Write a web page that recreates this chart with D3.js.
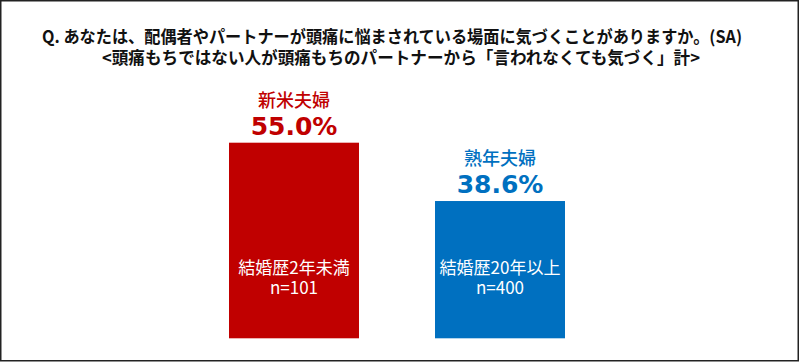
<!DOCTYPE html>
<html lang="ja">
  <head>
    <meta charset="UTF-8" />
    <title>頭痛に気づく</title>
    <script src="https://cdn.jsdelivr.net/npm/d3@7"></script>
    <style>
      body { margin: 0; background: #fff; }
      svg { display: block; font-family: "Noto Sans CJK JP", sans-serif; }
    </style>
  </head>
  <body>
    <svg width="800" height="362"></svg>
    <script>
      var groups = ["新米夫婦", "熟年夫婦"];
      var values = [55.0, 38.6];
      var subLabels = ["結婚歴2年未満", "結婚歴20年以上"];
      var sampleSizes = ["n=101", "n=400"];
      var colors = ["#C00000", "#0070C0"];
      var titleLines = [
        "Q. あなたは、配偶者やパートナーが頭痛に悩まされている場面に気づくことがありますか。(SA)",
        "<頭痛もちではない人が頭痛もちのパートナーから「言われなくても気づく」計>"
      ];

      var svg = d3.select("svg");

      // frame
      svg.append("rect")
        .attr("x", 0.75).attr("y", 0.75)
        .attr("width", 797.5).attr("height", 360)
        .attr("fill", "none")
        .attr("stroke", "#222")
        .attr("stroke-width", 1.5);

      // title
      var titleX = [[42, 700], [102, 598]];
      svg.selectAll(".title")
        .data(titleLines)
        .enter()
        .append("text")
        .attr("class", "title")
        .attr("x", function (d, i) { return titleX[i][0]; })
        .attr("y", function (d, i) { return 43 + i * 21; })
        .attr("textLength", function (d, i) { return titleX[i][1]; })
        .attr("lengthAdjust", "spacingAndGlyphs")
        .attr("font-size", 17)
        .attr("font-weight", "bold")
        .attr("fill", "#111")
        .text(function (d) { return d; });

      var x = d3.scaleBand().domain(groups).range([229, 565]).paddingInner(0.369).paddingOuter(0);
      var y = d3.scaleLinear().domain([0, 55]).range([338.3, 142.7]);

      var bar = svg.selectAll(".bar")
        .data(groups)
        .enter()
        .append("g")
        .attr("class", "bar");

      bar.append("rect")
        .attr("x", function (d) { return x(d); })
        .attr("y", function (d, i) { return y(values[i]); })
        .attr("width", x.bandwidth())
        .attr("height", function (d, i) { return y(0) - y(values[i]); })
        .attr("fill", function (d, i) { return colors[i]; });

      var cx = function (d) { return x(d) + x.bandwidth() / 2; };

      bar.append("text")
        .attr("x", cx)
        .attr("y", function (d, i) { return y(values[i]) - 36; })
        .attr("text-anchor", "middle")
        .attr("font-size", 18)
        .attr("font-weight", 500)
        .attr("fill", function (d, i) { return colors[i]; })
        .text(function (d) { return d; });

      bar.append("text")
        .attr("x", cx)
        .attr("y", function (d, i) { return y(values[i]) - 8; })
        .attr("text-anchor", "middle")
        .attr("font-family", "DejaVu Sans")
        .attr("font-size", 25)
        .attr("font-weight", "bold")
        .attr("fill", function (d, i) { return colors[i]; })
        .text(function (d, i) { return values[i].toFixed(1) + "%"; });

      bar.append("text")
        .attr("x", cx)
        .attr("y", 274)
        .attr("text-anchor", "middle")
        .attr("font-size", 17)
        .attr("fill", "#fff")
        .text(function (d, i) { return subLabels[i]; });

      bar.append("text")
        .attr("x", cx)
        .attr("y", 294)
        .attr("text-anchor", "middle")
        .attr("font-size", 17)
        .attr("fill", "#fff")
        .text(function (d, i) { return sampleSizes[i]; });
    </script>
  </body>
</html>
